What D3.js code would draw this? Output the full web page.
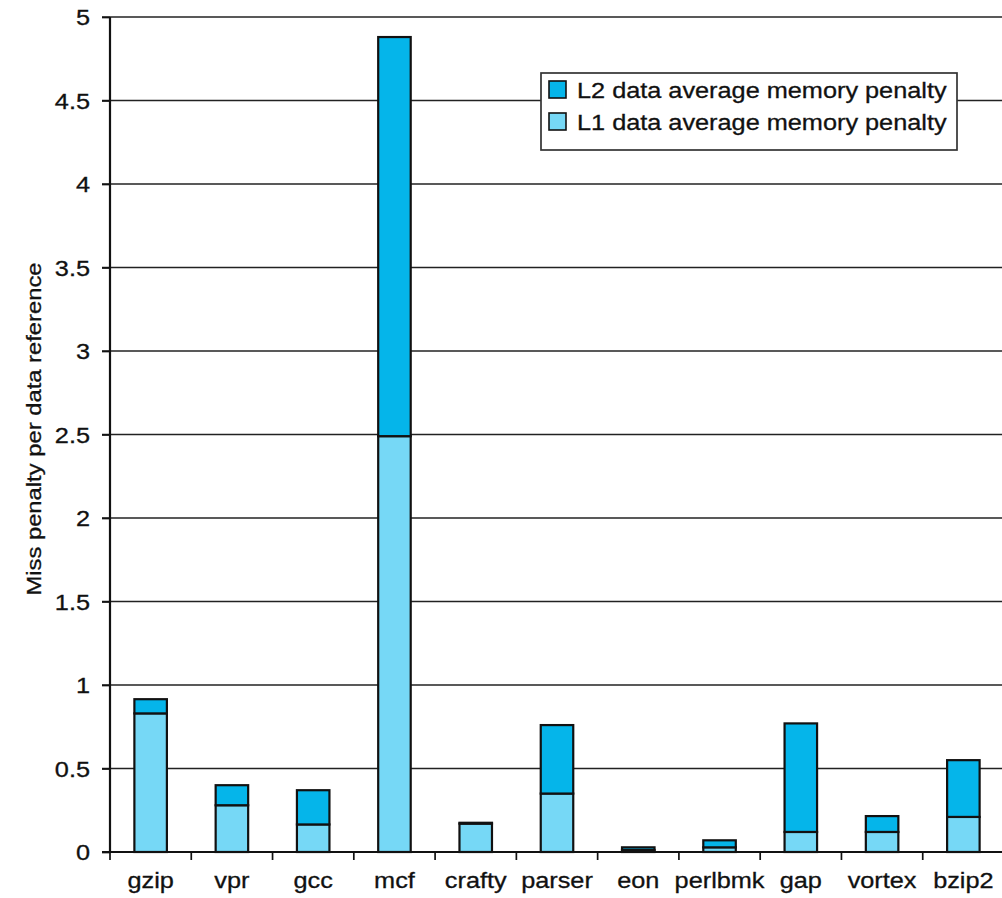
<!DOCTYPE html>
<html><head><meta charset="utf-8">
<script src="https://cdn.jsdelivr.net/npm/d3@7"></script>
<style>body{margin:0;background:#fff}svg{display:block}</style>
</head><body>
<svg id="c" width="1002" height="898"></svg>
<script>
const categories = ["gzip","vpr","gcc","mcf","crafty","parser","eon","perlbmk","gap","vortex","bzip2"];
const l1Values = [0.83,0.28,0.165,2.49,0.17,0.35,0.012,0.028,0.12,0.12,0.21];
const l2Values = [0.085,0.12,0.205,2.39,0.005,0.41,0.016,0.042,0.65,0.095,0.34];
const yTicks = [0,0.5,1,1.5,2,2.5,3,3.5,4,4.5,5];
const seriesNames = ["L2 data average memory penalty","L1 data average memory penalty"];
const colors = {l1:"#76d8f6", l2:"#05b5ea"};

const svg = d3.select("#c");
const font = "'Liberation Sans', Arial, sans-serif";
const SX = 1.15;
const x0 = 110, x1 = 1004, yTop = 17, yBot = 852;
const x = d3.scaleBand().domain(categories).range([x0,x1]).paddingInner(0.6).paddingOuter(0.3);
const y = d3.scaleLinear().domain([0,5]).range([yBot,yTop]);

function label(g, tx, ty, txt, size, anchor, rot, sx){
  return g.append("text")
    .attr("transform",`translate(${tx},${ty})${rot?` rotate(${rot})`:""} scale(${sx||SX},1)`)
    .attr("text-anchor",anchor).attr("font-family",font).attr("font-size",size).attr("fill","#111")
    .attr("stroke","#111").attr("stroke-width",0.3)
    .text(txt);
}

// gridlines
svg.append("g").selectAll("line").data(yTicks.filter(d=>d>0)).join("line")
  .attr("x1",x0-8).attr("x2",1002).attr("y1",d=>y(d)).attr("y2",d=>y(d))
  .attr("stroke","#222").attr("stroke-width",1.7);

// y axis ticks (via d3 axis), labels drawn with stretch
const ya = svg.append("g").attr("transform",`translate(${x0},0)`)
  .call(d3.axisLeft(y).tickValues(yTicks).tickSize(8).tickFormat(""));
ya.select(".domain").remove();
ya.selectAll("line").attr("stroke","#111").attr("stroke-width",1.7);
const yl = svg.append("g");
yTicks.forEach(t=>label(yl, 90, y(t)+8, String(t), 22, "end"));
svg.append("line").attr("x1",x0).attr("x2",x0).attr("y1",yTop).attr("y2",yBot)
  .attr("stroke","#111").attr("stroke-width",2.2);

// bars
const data = categories.map((c,i)=>({c, l1:l1Values[i], l2:l2Values[i]}));
const bars = svg.append("g");
bars.selectAll("rect.l1").data(data).join("rect").attr("class","l1")
  .attr("x",d=>x(d.c)).attr("width",x.bandwidth())
  .attr("y",d=>y(d.l1)).attr("height",d=>y(0)-y(d.l1))
  .attr("fill",colors.l1).attr("stroke","#111").attr("stroke-width",2.2);
bars.selectAll("rect.l2").data(data).join("rect").attr("class","l2")
  .attr("x",d=>x(d.c)).attr("width",x.bandwidth())
  .attr("y",d=>y(d.l1+d.l2)).attr("height",d=>y(d.l1)-y(d.l1+d.l2))
  .attr("fill",colors.l2).attr("stroke","#111").attr("stroke-width",2.2);

// x axis
svg.append("line").attr("x1",x0-8).attr("x2",1002).attr("y1",yBot).attr("y2",yBot)
  .attr("stroke","#111").attr("stroke-width",2.2);
const step = x.step();
svg.append("g").selectAll("line").data(d3.range(categories.length)).join("line")
  .attr("x1",i=>x0+i*step).attr("x2",i=>x0+i*step).attr("y1",yBot).attr("y2",yBot+8)
  .attr("stroke","#111").attr("stroke-width",1.7);
const xl = svg.append("g");
categories.forEach(c=>label(xl, x(c)+x.bandwidth()/2, 888, c, 22, "middle"));

// y title
label(svg, 41, 429, "Miss penalty per data reference", 20, "middle", -90, 1.19);

// legend
const lg = svg.append("g");
lg.append("rect").attr("x",541).attr("y",73).attr("width",416).attr("height",77)
  .attr("fill","#fff").attr("stroke","#333").attr("stroke-width",1.7);
const legendColors = [colors.l2, colors.l1];
seriesNames.forEach((n,i)=>{
  const cy = 90 + i*32;
  lg.append("rect").attr("x",549).attr("y",cy-9).attr("width",17).attr("height",17)
    .attr("fill",legendColors[i]).attr("stroke","#111").attr("stroke-width",1.6);
  label(lg, 577, cy+8, n, 22, "start");
});
</script>
</body></html>
